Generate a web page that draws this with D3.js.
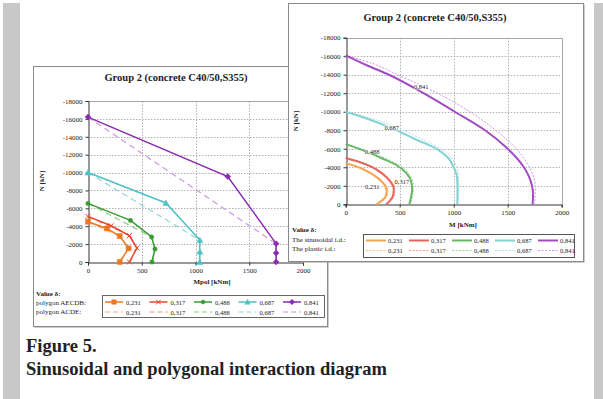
<!DOCTYPE html>
<html><head><meta charset="utf-8">
<script src="https://cdn.jsdelivr.net/npm/d3@7"></script>
<style>
body{margin:0;background:#fff}
svg{display:block}
text{font-family:"Liberation Serif","Times New Roman",serif;fill:#222}
</style>
</head><body>
<svg id="c" width="603" height="399"></svg>
<script>
// ---------- DATA ----------
const deltas = ["0,231", "0,317", "0,488", "0,687", "0,841"];
const xTicks = [0, 500, 1000, 1500, 2000];
const yTicks = [-18000, -16000, -14000, -12000, -10000, -8000, -6000, -4000, -2000, 0];
const chartTitle = "Group 2 (concrete C40/50,S355)";

// Left chart: polygon AECDB (M [kNm], N [kN])
const polyAECDB_231 = [[0, -4500], [175, -3750], [295, -2900], [378, -1530], [295, 0]];
const polyAECDB_317 = [[0, -5100], [215, -4050], [385, -2950], [455, -1550], [385, 0]];
const polyAECDB_488 = [[0, -6550], [395, -4650], [592, -2800], [623, -1450], [595, 0]];
const polyAECDB_687 = [[0, -10000], [725, -6600], [1040, -2450], [1040, -1150], [1040, 0]];
const polyAECDB_841 = [[0, -16200], [1300, -9550], [1750, -2050], [1750, -1000], [1750, 0]];
// Left chart: polygon ACDE
const polyACDE_231 = [[0, -4500], [295, -2900], [378, -1530], [295, 0]];
const polyACDE_317 = [[0, -5100], [385, -2950], [455, -1550], [385, 0]];
const polyACDE_488 = [[0, -6550], [592, -2800], [623, -1450], [595, 0]];
const polyACDE_687 = [[0, -10000], [1040, -2450], [1040, -1150], [1040, 0]];
const polyACDE_841 = [[0, -16200], [1750, -2050], [1750, -1000], [1750, 0]];

// Right chart: sinusoidal interaction diagram
const sinus_231 = [[0, -4450], [110, -4050], [210, -3500], [300, -2800], [360, -2100], [380, -1500], [372, -900], [335, -400], [285, 0]];
const sinus_317 = [[0, -5000], [120, -4600], [240, -4050], [340, -3300], [410, -2500], [445, -1700], [440, -1000], [410, -400], [375, 0]];
const sinus_488 = [[0, -6500], [180, -5750], [330, -5000], [460, -4300], [560, -3400], [605, -2500], [615, -1600], [605, -800], [590, 0]];
const sinus_687 = [[0, -10000], [200, -9250], [426, -8230], [650, -7000], [842, -6000], [950, -5000], [1000, -4000], [1030, -3000], [1035, -2000], [1035, -1000], [1033, 0]];
const sinus_841 = [[0, -16100], [200, -15000], [400, -14000], [720, -12000], [1010, -10000], [1290, -8000], [1500, -6000], [1650, -4000], [1725, -2000], [1735, -1000], [1730, 0]];
// Right chart: plastic interaction diagram
const plastic_231 = [[0, -4450], [130, -4000], [240, -3400], [320, -2700], [375, -2000], [390, -1400], [380, -800], [345, -350], [295, 0]];
const plastic_317 = [[0, -5000], [140, -4550], [270, -3950], [365, -3200], [428, -2400], [455, -1650], [450, -950], [420, -380], [385, 0]];
const plastic_488 = [[0, -6500], [200, -5750], [370, -4950], [500, -4200], [585, -3300], [622, -2400], [628, -1500], [615, -700], [598, 0]];
const plastic_687 = [[0, -10000], [250, -9250], [500, -8150], [720, -6950], [880, -6000], [980, -5000], [1030, -4000], [1045, -3000], [1045, -2000], [1042, -1000], [1037, 0]];
const plastic_841 = [[0, -16100], [250, -15200], [480, -14000], [850, -12000], [1150, -10000], [1390, -8000], [1580, -6000], [1700, -4000], [1755, -2000], [1755, -1000], [1745, 0]];

// ---------- STYLES ----------
const polyColors = ["#ee7722", "#e8482c", "#3a9a35", "#4fc0c6", "#8b2bb0"];
const polyDashColors = ["#f4ad7a", "#f0927e", "#8ecb82", "#8fd6da", "#cc96e2"];
const sinColors = ["#f5a453", "#e8645a", "#66b866", "#84d2d2", "#a24cc4"];
const plaColors = ["#f8c08a", "#f29a90", "#9bd49b", "#a8e0e0", "#d294e6"];
const markers = ["square", "x", "circle", "triangle", "diamond"];

const svg = d3.select("#c");
const fmt = d => String(d);

// background strips
svg.append("rect").attr("x", 3).attr("y", 3).attr("width", 17).attr("height", 396).attr("fill", "#c8c8c8");
svg.append("rect").attr("x", 594).attr("y", 3).attr("width", 9).attr("height", 396).attr("fill", "#c8c8c8");

function drawFrame(g, x0, y0, w, h) {
  g.append("rect").attr("x", x0 + 1.5).attr("y", y0 + 1.5).attr("width", w).attr("height", h).attr("fill", "#9a9a9a");
  g.append("rect").attr("x", x0 + 0.5).attr("y", y0 + 0.5).attr("width", w).attr("height", h)
    .attr("fill", "#fff").attr("stroke", "#8a8a8a").attr("stroke-width", 1);
}

function drawAxes(g, x, y, xLabel, yLabelPos, xLabelPos) {
  const grid = g.append("g");
  grid.selectAll("line.h").data(yTicks.filter(d => d !== 0 && d !== -18000)).join("line")
    .attr("x1", x(0)).attr("x2", x(2000)).attr("y1", d => Math.round(y(d)) + 0.5).attr("y2", d => Math.round(y(d)) + 0.5)
    .attr("stroke", "#b0b0b0").attr("stroke-dasharray", "1.5,1.5");
  grid.selectAll("line.v").data(xTicks.filter(d => d !== 0 && d !== 2000)).join("line")
    .attr("y1", y(0)).attr("y2", y(-18000)).attr("x1", d => Math.round(x(d)) + 0.5).attr("x2", d => Math.round(x(d)) + 0.5)
    .attr("stroke", "#b0b0b0").attr("stroke-dasharray", "1.5,1.5");
  g.append("path").attr("d", `M${x(0)},${Math.round(y(-18000)) + 0.5}H${Math.round(x(2000)) + 0.5}V${y(0)}`)
    .attr("fill", "none").attr("stroke", "#a8a8a8");
  const ax = g.append("g").attr("transform", `translate(0,${Math.round(y(0)) + 0.5})`)
    .call(d3.axisBottom(x).tickValues(xTicks).tickFormat(fmt).tickSize(3).tickPadding(3));
  const ay = g.append("g").attr("transform", `translate(${Math.round(x(0)) + 0.5},0)`)
    .call(d3.axisLeft(y).tickValues(yTicks).tickFormat(fmt).tickSize(3).tickPadding(3));
  [ax, ay].forEach(a => {
    a.select(".domain").attr("stroke", "#333");
    a.selectAll(".tick line").attr("stroke", "#333");
    a.selectAll("text").attr("font-size", 7).attr("font-family", "Liberation Serif").attr("fill", "#333");
  });
  g.append("text").attr("x", xLabelPos[0]).attr("y", xLabelPos[1]).attr("text-anchor", "middle")
    .attr("font-size", 7).attr("font-weight", "bold").text(xLabel);
  g.append("text").attr("transform", `translate(${yLabelPos[0]},${yLabelPos[1]}) rotate(-90)`).attr("text-anchor", "middle")
    .attr("font-size", 7).attr("font-weight", "bold").text("N [kN]");
}

function markerPath(type, s) {
  const h = s / 2;
  if (type === "square") return `M${-h},${-h}h${s}v${s}h${-s}Z`;
  if (type === "x") return `M${-h},${-h}L${h},${h}M${-h},${h}L${h},${-h}`;
  if (type === "circle") return d3.symbol(d3.symbolCircle, s * s * 0.6)();
  if (type === "triangle") return `M0,${-h - 0.5}L${h + 0.5},${h}L${-h - 0.5},${h}Z`;
  return `M0,${-h - 0.5}L${h + 0.5},0L0,${h + 0.5}L${-h - 0.5},0Z`;
}
function drawMarker(g, type, color, px, py, s) {
  const p = g.append("path").attr("d", markerPath(type, s)).attr("transform", `translate(${px},${py})`);
  if (type === "x") p.attr("fill", "none").attr("stroke", color).attr("stroke-width", 1);
  else p.attr("fill", color).attr("stroke", color).attr("stroke-width", 0.5);
}

// ---------- LEFT PANEL ----------
const L = svg.append("g");
drawFrame(L, 33, 66, 294, 260);
L.append("text").attr("x", 176).attr("y", 81).attr("text-anchor", "middle").attr("font-size", 10.5)
  .attr("font-weight", "bold").text(chartTitle);
const xL = d3.scaleLinear().domain([0, 2000]).range([88, 303]);
const yL = d3.scaleLinear().domain([0, -18000]).range([262, 101]);
drawAxes(L, xL, yL, "Mpol [kNm]", [44, 181], [212, 284]);

const polyAECDB = [polyAECDB_231, polyAECDB_317, polyAECDB_488, polyAECDB_687, polyAECDB_841];
const polyACDE = [polyACDE_231, polyACDE_317, polyACDE_488, polyACDE_687, polyACDE_841];
const lineL = d3.line().x(d => xL(d[0])).y(d => yL(d[1]));
polyACDE.forEach((s, i) => {
  L.append("path").attr("d", lineL(s)).attr("fill", "none").attr("stroke", polyDashColors[i])
    .attr("stroke-width", 1.2).attr("stroke-dasharray", "6,4");
});
polyAECDB.forEach((s, i) => {
  L.append("path").attr("d", lineL(s)).attr("fill", "none").attr("stroke", polyColors[i]).attr("stroke-width", 1.5);
  s.forEach(d => drawMarker(L, markers[i], polyColors[i], xL(d[0]), yL(d[1]), 5));
});

// left legend
L.append("text").attr("x", 36).attr("y", 296).attr("font-size", 7).attr("font-weight", "bold").text("Value \u03b4:");
L.append("text").attr("x", 36).attr("y", 305).attr("font-size", 7).text("polygon AECDB:");
L.append("text").attr("x", 36).attr("y", 314).attr("font-size", 7).text("polygon ACDE:");
L.append("rect").attr("x", 102.5).attr("y", 295.5).attr("width", 222).attr("height", 22)
  .attr("fill", "#fff").attr("stroke", "#666");
deltas.forEach((d, i) => {
  const x0 = 105 + i * 44.5;
  L.append("line").attr("x1", x0).attr("x2", x0 + 18).attr("y1", 302).attr("y2", 302)
    .attr("stroke", polyColors[i]).attr("stroke-width", 1.5);
  drawMarker(L, markers[i], polyColors[i], x0 + 9, 302, 4.5);
  L.append("text").attr("x", x0 + 21).attr("y", 304.5).attr("font-size", 6.5).attr("fill", "#555").text(d);
  L.append("line").attr("x1", x0).attr("x2", x0 + 18).attr("y1", 312).attr("y2", 312)
    .attr("stroke", polyDashColors[i]).attr("stroke-width", 1.2).attr("stroke-dasharray", "5,3");
  L.append("text").attr("x", x0 + 21).attr("y", 314.5).attr("font-size", 6.5).attr("fill", "#555").text(d);
});

// ---------- RIGHT PANEL ----------
const R = svg.append("g");
drawFrame(R, 288, 3, 295, 258);
R.append("text").attr("x", 435).attr("y", 21).attr("text-anchor", "middle").attr("font-size", 10.5)
  .attr("font-weight", "bold").text(chartTitle);
const xR = d3.scaleLinear().domain([0, 2000]).range([345.7, 561.7]);
const yR = d3.scaleLinear().domain([0, -18000]).range([204.3, 37.7]);
drawAxes(R, xR, yR, "M [kNm]", [298, 121], [463, 227]);

const sinus = [sinus_231, sinus_317, sinus_488, sinus_687, sinus_841];
const plastic = [plastic_231, plastic_317, plastic_488, plastic_687, plastic_841];
const lineR = d3.line().x(d => xR(d[0])).y(d => yR(d[1])).curve(d3.curveMonotoneY);
plastic.forEach((s, i) => {
  R.append("path").attr("d", lineR(s)).attr("fill", "none").attr("stroke", plaColors[i])
    .attr("stroke-width", 1).attr("stroke-dasharray", "2,1.5");
});
sinus.forEach((s, i) => {
  R.append("path").attr("d", lineR(s)).attr("fill", "none").attr("stroke", sinColors[i]).attr("stroke-width", 2);
});
// curve labels
const curveLabelPos = [[246, -1900], [520, -2400], [245, -5700], [426, -8230], [700, -12650]];
curveLabelPos.forEach((p, i) => {
  const t = R.append("text").attr("x", xR(p[0])).attr("y", yR(p[1]) + 2.2).attr("text-anchor", "middle")
    .attr("font-size", 6.5).attr("fill", "#444").text(deltas[i]);
  const bb = t.node().getBBox();
  R.insert("rect", () => t.node()).attr("x", bb.x).attr("y", bb.y + 1).attr("width", bb.width).attr("height", bb.height - 2).attr("fill", "#fff").attr("opacity", 0.85);
});

// right legend
R.append("text").attr("x", 292).attr("y", 232).attr("font-size", 7).attr("font-weight", "bold").text("Value \u03b4:");
R.append("text").attr("x", 292).attr("y", 242).attr("font-size", 7).text("The sinusoidal i.d.:");
R.append("text").attr("x", 292).attr("y", 251).attr("font-size", 7).text("The plastic i.d.:");
R.append("rect").attr("x", 363.5).attr("y", 234.5).attr("width", 211).attr("height", 23)
  .attr("fill", "#fff").attr("stroke", "#555");
deltas.forEach((d, i) => {
  const x0 = 366 + i * 43;
  R.append("line").attr("x1", x0).attr("x2", x0 + 20).attr("y1", 240.5).attr("y2", 240.5)
    .attr("stroke", sinColors[i]).attr("stroke-width", 2);
  R.append("text").attr("x", x0 + 22).attr("y", 243).attr("font-size", 6.5).attr("fill", "#555").text(d);
  R.append("line").attr("x1", x0).attr("x2", x0 + 20).attr("y1", 250.5).attr("y2", 250.5)
    .attr("stroke", plaColors[i]).attr("stroke-width", 1).attr("stroke-dasharray", "2,1.5");
  R.append("text").attr("x", x0 + 22).attr("y", 253).attr("font-size", 6.5).attr("fill", "#555").text(d);
});

// ---------- CAPTION ----------
svg.append("text").attr("x", 26).attr("y", 352).attr("font-size", 18.5).attr("font-weight", "bold").attr("fill", "#000")
  .text("Figure 5.");
svg.append("text").attr("x", 26).attr("y", 375).attr("font-size", 18.5).attr("font-weight", "bold").attr("fill", "#000")
  .text("Sinusoidal and polygonal interaction diagram");
</script>
</body></html>
